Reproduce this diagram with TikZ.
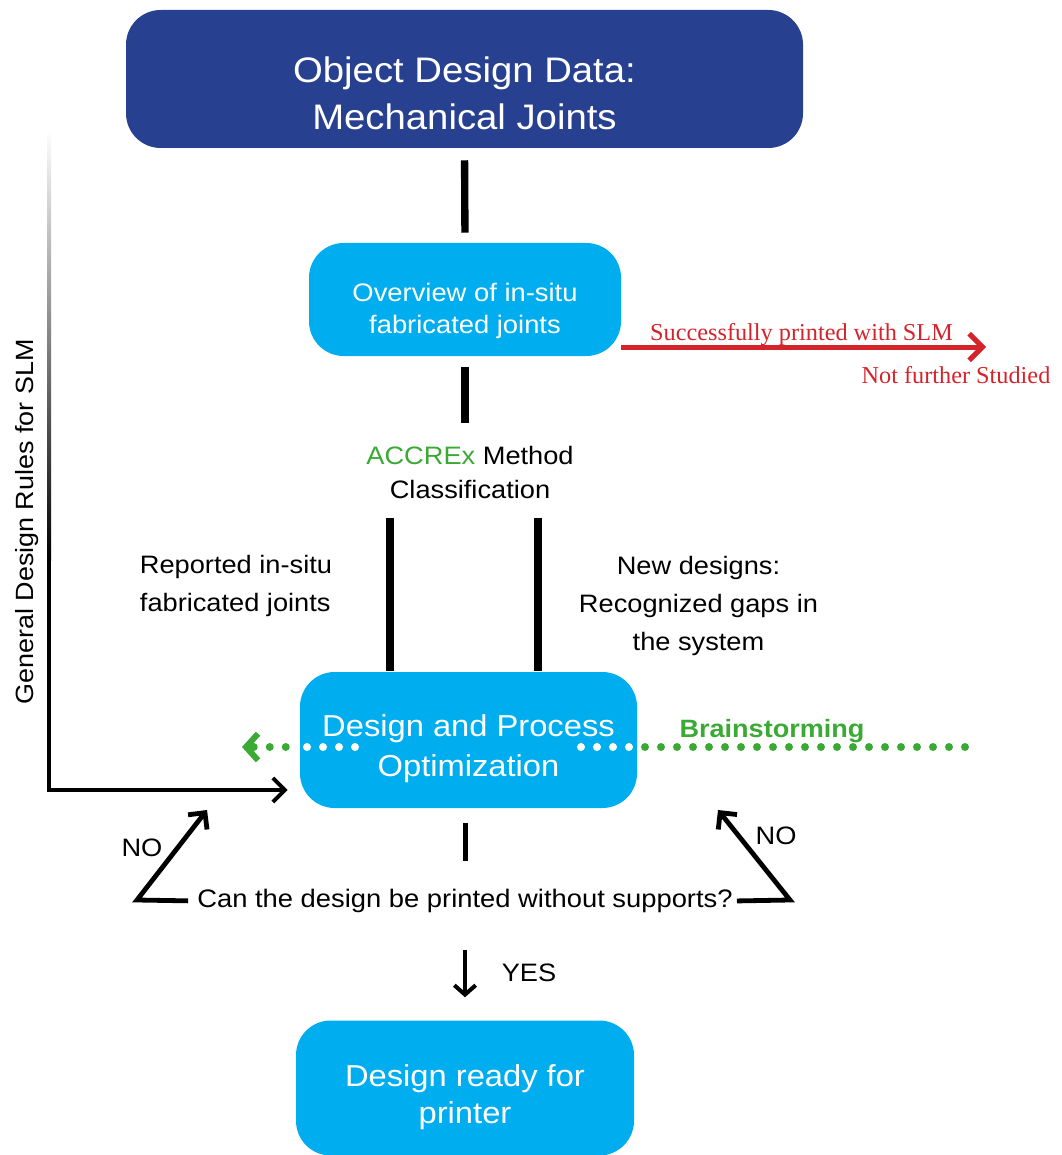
\documentclass[tikz,border=0pt]{standalone}
\usepackage{fontspec}
\setmainfont{Liberation Sans}[FakeStretch=1.08]
\newfontfamily\redserif{Liberation Serif}
\usetikzlibrary{arrows.meta}
\definecolor{dblue}{RGB}{39,64,143}
\definecolor{lblue}{RGB}{0,174,239}
\definecolor{mygreen}{RGB}{58,170,53}
\definecolor{myred}{RGB}{212,35,42}
\begin{document}
\begin{tikzpicture}[x=0.75pt,y=-0.75pt,
  bx/.style={rounded corners=26pt, inner sep=0pt, draw=none},
  wtxt/.style={text=white, align=center, inner sep=0pt},
  btxt/.style={text=black, inner sep=0pt},
  conn/.style={line width=5.5pt},
  blk/.style={line width=3.6pt, line join=miter},
  barb/.style={-{Straight Barb[length=9pt,width=18pt]}},
  gdots/.style={mygreen, line width=6pt, line cap=round, dash pattern=on 0pt off 12pt},
  wdots/.style={white, line width=6pt, line cap=round, dash pattern=on 0pt off 12pt},
  fa/.style={font=\fontsize{18.9}{28.5}\selectfont},
]
\useasboundingbox (0,0) rectangle (1062,1155);

% coordinates for free ends
\coordinate (gstart) at (965,747);
\coordinate (gtip) at (242,747);
\coordinate (gtop) at (49,130);
\coordinate (gblack) at (49,560);
\coordinate (gcorner) at (49,790);
\coordinate (redend) at (986,347);
\coordinate (nl) at (137,900);
\coordinate (nltip) at (207,810);
\coordinate (nr) at (790,900);
\coordinate (nrtip) at (718,810);
\coordinate (wl1) at (307,747);
\coordinate (wl2) at (357,747);
\coordinate (wr1) at (629,747);
\coordinate (wr2) at (579,747);

% boxes
\node[bx, fill=dblue, minimum width=507.75pt, minimum height=103.5pt] (b1) at (464.5,79) {};
\node[bx, fill=lblue, minimum width=234pt, minimum height=84.75pt] (b2) at (465,299.5) {};
\node[bx, fill=lblue, minimum width=252.75pt, minimum height=102pt] (b3) at (468.5,740) {};
\node[bx, fill=lblue, minimum width=253.5pt, minimum height=101.25pt] (b4) at (465,1088) {};

% green dotted brainstorming line (behind box 3 parts)
\draw[gdots] (gstart) -- (b3.east |- gstart);
\draw[gdots, shorten <=10.5pt, -{Straight Barb[length=9pt,width=20pt,line width=4.5pt]}] (b3.west |- gstart) -- (gtip);
\draw[wdots] (wl1) -- (wl2);
\draw[wdots] (wr1) -- (wr2);

% texts
\node[wtxt, font=\fontsize{26.6}{35}\selectfont] (t1) at (464.5,93.5) {Object Design Data:\\Mechanical Joints};
\node[wtxt, font=\fontsize{19}{24}\selectfont] (t2) at (465,310.5) {Overview of in-situ\\fabricated joints};
\node[wtxt, font=\fontsize{22.7}{30}\selectfont] (t3) at (468.5,749) {Design and Process\\Optimization};
\node[wtxt, font=\fontsize{22.7}{28}\selectfont] (t4) at (465,1097) {Design ready for\\printer};

\node[btxt, align=center, font=\fontsize{18.9}{25.5}\selectfont] (acc) at (470,472) {\textcolor{mygreen}{ACCREx} Method\\Classification};
\node[btxt, align=left, fa] (rep) at (236,586) {Reported in-situ\\fabricated joints};
\node[btxt, align=center, fa] (new) at (698.5,606) {New designs:\\Recognized gaps in\\the system};
\node[btxt, font=\fontsize{19}{24}\selectfont] (q) at (465,901) {Can the design be printed without supports?};
\node[btxt, fa] (yes) at (529,973) {YES};
\node[btxt, fa] (noL) at (142,848) {NO};
\node[btxt, fa] (noR) at (776,836) {NO};
\node[inner sep=0pt, text=mygreen, font=\bfseries\fontsize{18.8}{22}\selectfont] (brain) at (772,731) {Brainstorming};
\node[btxt, rotate=90, font=\fontsize{18.7}{22}\selectfont] (gdr) at (27,522) {General Design Rules for SLM};
\node[inner sep=0pt, text=myred, font=\redserif\fontsize{18.2}{22}\selectfont] (red1) at (801.5,335) {Successfully printed with SLM};
\node[inner sep=0pt, text=myred, font=\redserif\fontsize{18.2}{22}\selectfont] (red2) at (956,375) {Not further Studied};

% connectors
\draw[conn, shorten <=9pt, shorten >=7.5pt] (b1.south) -- (b2.north);
\draw[conn, shorten <=8.25pt, shorten >=16.5pt] (b2.south) -- (b2.south |- acc.north);
\draw[conn, shorten <=14.25pt, shorten >=0.75pt] (acc.south -| 390,0) -- (b3.north -| 390,0);
\draw[conn, shorten <=14.25pt, shorten >=0.75pt] (acc.south -| 538,0) -- (b3.north -| 538,0);
\draw[line width=3.75pt, shorten <=11pt, shorten >=21pt] (q.north |- b3.south) -- (q.north);
\draw[line width=3pt, shorten <=27.75pt, shorten >=17.25pt, -{Straight Barb[length=7pt,width=16pt]}] (q.south) -- (b4.north);

% NO loops
\draw[blk, barb, shorten <=6.75pt] (q.west) -- (nl) -- (nltip);
\draw[blk, barb, shorten <=3pt] (q.east) -- (nr) -- (nrtip);

% red arrow
\draw[myred, line width=3.75pt, -{Straight Barb[length=10pt,width=20pt]}] (b2.east |- redend) -- (redend);

% general design rules line
\shade[top color=white, bottom color=black] ([xshift=-1.5pt]gtop) rectangle ([xshift=1.5pt]gblack);
\draw[line width=3pt, line join=miter, shorten >=9pt, -{Straight Barb[length=9pt,width=18pt]}] (gblack) -- (gcorner) -- (gcorner -| b3.west);
\end{tikzpicture}
\end{document}
